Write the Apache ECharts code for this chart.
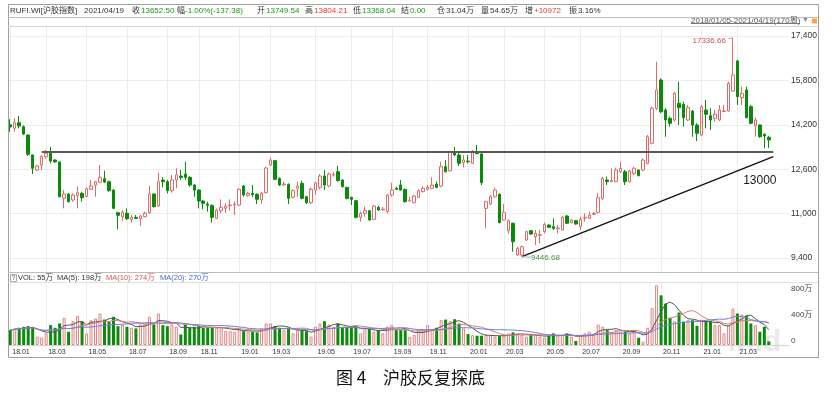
<!DOCTYPE html>
<html><head><meta charset="utf-8">
<script src="https://cdn.jsdelivr.net/npm/echarts@6/dist/echarts.min.js"></script>
<style>html,body{margin:0;padding:0;background:#fff}#c{width:835px;height:394px}</style>
</head><body><div id="c"></div>
<script>
// ---- weekly bars (170 weeks, 2018/01/05 - 2021/04/19) ----
const opens = [14200,14074,14276,14131,13832,13111,12571,12751,13050,13172,
12931,12860,11551,11706,11490,11646,11730,11622,11874,12030,
12127,12258,12150,11850,11032,10890,11010,10793,10865,10817,
10890,11032,11706,11274,12210,12150,11826,12210,12354,12426,
12306,12030,11850,11454,11346,11298,10829,11105,11190,11290,
11310,11310,11994,11658,11730,11694,11490,11754,12751,12907,
12270,12042,12054,11586,11910,12090,11610,11394,11850,11946,
12354,11994,12390,12510,12210,11946,11586,11466,10865,11010,
11106,10793,11226,11140,11070,11670,11910,12030,11874,11460,
11394,11586,11790,11874,11910,12066,11994,12690,12546,13230,
13111,12835,12890,12811,13190,13147,11190,11346,11610,11694,
10769,10385,10650,9508,9508,10049,10385,10169,10220,10349,
10589,10529,10460,10409,10913,10673,10745,10529,10840,10829,
10974,11046,11550,12210,12150,12150,12510,12510,12150,12451,
12570,12570,12811,13533,14794,15814,14733,14434,14373,14974,
14938,14373,14697,14193,13832,14733,14530,14434,14373,14680,
14697,15418,16499,15178,15454,14854,14157,14193,13858,13749.54];
const closes = [14120,14276,14157,13868,13137,12632,12715,13050,13172,12895,
12860,11609,11706,11429,11670,11754,11573,11898,11994,12149,
12307,12138,11826,11190,10939,11045,10816,10865,10829,10913,
11010,11706,11250,12150,12150,11826,12210,12402,12306,12306,
12030,11850,11454,11370,11298,10865,11130,11226,11274,11310,
11334,11874,11670,11730,11682,11514,11730,12643,12931,12234,
12030,12066,11550,11826,11994,11550,11394,11874,12114,12354,
12030,12426,12410,12186,11970,11550,11514,10865,11010,11106,
10769,11274,11130,11160,11670,11850,11874,11850,11430,11480,
11634,11826,11910,11946,12030,11946,12690,12510,13230,13111,
12811,12931,12870,13194,13160,12114,11430,11610,11850,10673,
11034,10745,9987,9749,9809,10349,10265,10289,10240,10613,
10505,10469,10480,10865,10650,10769,10625,10793,10860,10950,
11010,11573,12270,12150,12200,12570,12632,12150,12535,12632,
12367,12931,13771,14794,15454,14673,14373,14254,15334,14818,
14457,14818,14193,13893,14854,14578,14373,14578,14733,14700,
15694,15994,15213,15334,14457,14254,14373,13771,13797,13652.50];
const lows = [13950,13951,14074,13832,13076,12427,12535,12571,12980,12811,
12830,11586,11190,11400,11430,11190,11430,11600,11860,11609,
12100,12100,11790,11155,10434,10745,10769,10673,10800,10553,
10870,10986,11220,11240,11946,11730,11754,11910,12210,12210,
11970,11609,11190,11155,11070,10673,10800,11010,11034,11106,
10950,11280,11609,11609,11609,11346,11370,11730,12720,12210,
11994,11994,11346,11550,11609,11514,11346,11346,11670,11874,
11850,11946,12330,12160,11940,11514,11310,10829,10709,10890,
10745,10769,11100,11106,11010,11609,11850,11820,11400,11430,
11370,11560,11770,11826,11890,11910,11946,12480,12520,13076,
12715,12667,12811,12787,13140,12030,10470,11310,11580,10650,
10745,10289,9627,9472,9446.68,10013,10240,9868,9929,10289,
10480,10409,10289,10385,10625,10650,10600,10409,10709,10810,
10950,11010,11490,12030,12138,12130,12451,12030,12120,12390,
12340,12535,12775,13497,14733,14613,13771,14131,14313,14193,
14131,14337,13771,13616,13796,14074,14013,14313,14340,14661,
14673,15394,14913,14913,14434,14218,13771,13735,13353,13368.04];
const highs = [14400,14434,14517,14180,13850,13130,12751,13111,13292,13410,
12960,12880,11850,11730,11730,11969,11790,11940,12210,12180,
12751,12546,12190,11870,11070,11130,11190,10950,10950,10950,
11070,11994,11730,12474,12307,12210,12390,12632,12570,12871,
12354,12066,11880,11490,11430,11330,11190,11514,11370,11514,
11430,11910,12030,11790,12030,11730,11790,12690,13030,12931,
12306,12150,12090,11874,12150,12186,11630,11946,12150,12426,
12570,12474,12510,12715,12240,11970,11610,11490,11070,11250,
11130,11310,11274,11250,11706,12114,11970,12210,11900,11609,
11670,11874,11994,12030,12306,12150,12871,12931,13267,13411,
13230,13111,13111,13292,13470,13200,11466,11670,11946,11730,
11346,10793,10673,9809,9845,10385,10400,10409,10409,10673,
10613,10830,10589,10913,10950,10805,10769,10890,11010,11070,
11058,11730,12330,12330,12632,12655,12871,12570,12570,12690,
12600,12992,13832,14854,16474,15874,14794,14493,15394,15753,
15033,14914,14733,14254,14914,15094,14794,14733,14914,14914,
15754,17336.66,16535,15574,15574,14914,14457,14218,13893,13804.21];
// volume, unit 万手
const volumes = [228,254,264,279,289,274,127,112,178,304,
264,330,416,203,365,446,365,178,380,406,
482,390,355,431,289,314,279,264,254,314,
330,431,314,482,304,289,314,279,162,314,
264,279,289,264,264,264,264,279,218,213,
203,254,213,203,203,193,254,330,330,289,
264,228,264,178,228,228,213,127,279,330,
365,314,279,330,264,264,289,279,178,254,
243,203,228,178,279,304,228,228,228,127,
152,228,228,304,228,264,380,390,365,395,
330,254,167,152,142,142,152,152,127,137,
142,178,193,178,152,127,152,162,127,112,
142,178,152,152,178,127,61,152,178,203,
178,314,279,228,203,228,203,203,178,228,
112,51,264,568,913,761,634,416,365,497,
355,380,380,294,380,365,365,304,304,178,
304,558,482,467,446,330,304,203,279,55];
const tickIndex = [0,8,17,26,35,42,51,58,68,76,85,93,102,110,119,127,136,145,154,162];
const tickLabels = ['18.01','18.03','18.05','18.07','18.09','18.11','19.01','19.03','19.05','19.07',
'19.09','19.11','20.01','20.03','20.05','20.07','20.09','20.11','21.01','21.03'];
const priceTicks = [9400,11000,12600,14200,15800,17400];
const volTicks = [0,400,800];
const supportLevel = 13230;      // horizontal neckline
const supportFrom = 7;
const trendFrom = [114, 9446.68];
const trendTo = [170, 13050];
const trendLabel = ['13000', 167, 12180];
const highMark = [161, 17336.66];
const lowMark = [114, 9446.68];
const EMPTY_WEEKS = 4;

// ---- derived ----
const N = opens.length;
const categories = [];
for (let i = 0; i < N + EMPTY_WEEKS; i++) categories.push(String(i));
const candleData = opens.map((o, i) => [o, closes[i], lows[i], highs[i]]);
const upVol = volumes.map((v, i) => closes[i] >= opens[i] ? v : '-');
const downVol = volumes.map((v, i) => closes[i] < opens[i] ? v : '-');
function ma(k) {
  return volumes.map((v, i) => {
    let s = 0, c = 0;
    for (let j = Math.max(0, i - k + 1); j <= i; j++) { s += volumes[j]; c++; }
    return +(s / c).toFixed(1);
  });
}
const tickMap = {};
tickIndex.forEach((t, i) => tickMap[t] = tickLabels[i]);
const blanks = categories.map(() => '-');

const FONT = '"Liberation Sans","Noto Sans CJK SC",sans-serif';
function txt(x, y, text, fill, size, fam) {
  return {type: 'text', x: x, y: y, silent: true, z: 10,
    style: {text: text, fill: fill, font: size + 'px ' + (fam || FONT), align: 'left', verticalAlign: 'middle'}};
}
function ln(x1, y1, x2, y2, c, w) {
  return {type: 'line', silent: true, z: 10, shape: {x1, y1, x2, y2}, style: {stroke: c, lineWidth: w || 1}};
}
const G = '#169a16', R = '#e03a3a', K = '#333', HS = 8;
const graphics = [
  {type: 'text', x: 728, y: 343, silent: true, z: 0,
   style: {text: 'in.d', fill: '#e9e9e9', font: 'bold 30px ' + FONT, align: 'left', verticalAlign: 'middle'}},
  {type: 'rect', silent: true, z: 10, shape: {x: 8.5, y: 4.5, width: 810, height: 353}, style: {fill: 'none', stroke: '#a0a0a0', lineWidth: 1}},
  ln(8, 17.5, 818, 17.5, '#bdbdbd'),
  ln(8, 26.5, 818, 26.5, '#d6d6d6'),
  ln(8, 272.5, 818, 272.5, '#bdbdbd'),
  ln(8, 282.5, 818, 282.5, '#e2e2e2'),
  txt(10, 11, 'RUFI.WI[沪胶指数]', K, HS),
  txt(84, 11, '2021/04/19', K, HS),
  txt(132, 11, '收', K, HS), txt(141, 11, '13652.50', G, HS),
  txt(177, 11, '幅', K, HS), txt(185, 11, '-1.00%(-137.38)', G, HS),
  txt(257, 11, '开', K, HS), txt(266, 11, '13749.54', G, HS),
  txt(305, 11, '高', K, HS), txt(314, 11, '13804.21', R, HS),
  txt(353, 11, '低', K, HS), txt(362, 11, '13368.04', G, HS),
  txt(401, 11, '结', K, HS), txt(410, 11, '0.00', G, HS),
  txt(437, 11, '仓', K, HS), txt(446, 11, '31.04万', K, HS),
  txt(481, 11, '量', K, HS), txt(490, 11, '54.65万', K, HS),
  txt(525, 11, '增', K, HS), txt(534, 11, '+10972', R, HS),
  txt(569, 11, '振', K, HS), txt(578, 11, '3.16%', K, HS),
  txt(691, 20.5, '2018/01/05-2021/04/19(170周)', '#555', 8),
  ln(691, 23.5, 800, 23.5, '#777'),
  txt(802, 20.5, '▼', '#888', 7),
  {type: 'rect', silent: true, z: 10, shape: {x: 812, y: 18.5, width: 5, height: 5}, style: {fill: '#f2a93b'}},
  {type: 'rect', silent: true, z: 10, shape: {x: 10.5, y: 274.5, width: 6, height: 7}, style: {fill: '#fff', stroke: '#aaa'}},
  txt(11.5, 278, '?', '#555', 7),
  txt(18, 277.5, 'VOL: 55万', K, 7.5),
  txt(57, 277.5, 'MA(5): 198万', K, 7.5),
  txt(106, 277.5, 'MA(10): 274万', '#d9534f', 7.5),
  txt(160, 277.5, 'MA(20): 270万', '#4a67d6', 7.5),
  txt(336, 378, '图 4', '#111', 17, '"Noto Sans CJK SC",serif'),
  txt(383, 378, '沪胶反复探底', '#111', 17, '"Noto Sans CJK SC",serif')
];

const chart = echarts.init(document.getElementById('c'), null, {renderer: 'canvas'});
const gridLine = {color: '#ececec', width: 1, type: 'solid'};
chart.setOption({
  animation: false,
  backgroundColor: '#fff',
  textStyle: {fontFamily: FONT},
  grid: [
    {left: 8, right: 46, top: 27, height: 245},
    {left: 8, right: 46, top: 283, height: 62}
  ],
  xAxis: [
    {type: 'category', gridIndex: 0, data: categories, boundaryGap: true,
     axisLine: {show: false}, axisTick: {show: false}, axisLabel: {show: false}, splitLine: {show: false}},
    {type: 'category', gridIndex: 1, data: categories, boundaryGap: true,
     axisLine: {show: true, lineStyle: {color: '#d4d4d4'}}, axisTick: {show: false}, splitLine: {show: false},
     axisLabel: {show: true, interval: (i) => tickMap[i] !== undefined, formatter: (v, i) => tickMap[i] || '',
       align: 'left', padding: [0, 0, 0, 2], margin: 4, fontSize: 7, color: '#333', fontFamily: FONT}}
  ],
  yAxis: [
    {type: 'value', gridIndex: 0, position: 'right', min: 8896, max: 17724, scale: true,
     axisLine: {show: false}, axisTick: {show: false}, splitLine: {show: false},
     axisLabel: {show: true, customValues: priceTicks, margin: 2, fontSize: 8.5, color: '#333', fontFamily: FONT}},
    {type: 'value', gridIndex: 1, position: 'right', min: 0, max: 950,
     axisLine: {show: false}, axisTick: {show: false}, splitLine: {show: false},
     axisLabel: {show: true, customValues: volTicks, margin: 2, fontSize: 8, color: '#444',
       verticalAlign: 'bottom', fontFamily: FONT, formatter: v => v === 0 ? '0' : v + '万'}}
  ],
  graphic: graphics,
  series: [
    {type: 'line', xAxisIndex: 0, yAxisIndex: 0, data: blanks, silent: true, z: 1, showSymbol: false,
     markLine: {z: 1, silent: true, symbol: 'none', animation: false, label: {show: false}, lineStyle: gridLine,
       data: tickIndex.map(i => ({xAxis: i})).concat(priceTicks.map(v => ({yAxis: v})))}},
    {type: 'line', xAxisIndex: 1, yAxisIndex: 1, data: blanks, silent: true, z: 1, showSymbol: false,
     markLine: {z: 1, silent: true, symbol: 'none', animation: false, label: {show: false}, lineStyle: gridLine,
       data: tickIndex.map(i => ({xAxis: i}))}},
    {type: 'candlestick', name: '沪胶指数', xAxisIndex: 0, yAxisIndex: 0, data: candleData, barWidth: 3, z: 3,
     itemStyle: {color: '#ffffff', color0: '#0b8a0b', borderColor: '#df6a6a', borderColor0: '#0b8a0b', borderWidth: 1},
     markLine: {silent: true, symbol: 'none', animation: false, label: {show: false}, z: 5,
       data: [
         [{coord: [supportFrom, supportLevel], lineStyle: {color: '#595959', width: 2, type: 'solid'}},
          {coord: [N, supportLevel]}],
         [{coord: trendFrom, lineStyle: {color: '#111', width: 1.4, type: 'solid'}}, {coord: trendTo}],
         [{coord: highMark, lineStyle: {color: '#8fb8dc', width: 1, type: 'solid'}}, {coord: [highMark[0] - 1, highMark[1] - 30]}],
         [{coord: lowMark, lineStyle: {color: '#8fb8dc', width: 1, type: 'solid'}}, {coord: [lowMark[0] + 2, lowMark[1] - 20]}]
       ]},
     markPoint: {silent: true, animation: false, symbol: 'circle', symbolSize: 0,
       data: [
         {coord: highMark, label: {show: true, formatter: '17336.66', position: 'left', distance: 7, offset: [0, 3],
           color: '#c85454', fontSize: 8, fontFamily: FONT}},
         {coord: lowMark, label: {show: true, formatter: '9446.68', position: 'right', distance: 9, offset: [0, 1],
           color: '#3d9a3d', fontSize: 8, fontFamily: FONT}},
         {coord: [trendLabel[1], trendLabel[2]], label: {show: true, formatter: trendLabel[0], position: 'inside',
           color: '#1a1a1a', fontSize: 12, fontFamily: FONT}}
       ]}},
    {type: 'bar', xAxisIndex: 1, yAxisIndex: 1, data: upVol, barWidth: 3, barGap: '-100%', z: 3,
     itemStyle: {color: '#ffffff', borderColor: '#e08383', borderWidth: 1}},
    {type: 'bar', xAxisIndex: 1, yAxisIndex: 1, data: downVol, barWidth: 3, barGap: '-100%', z: 3,
     itemStyle: {color: '#0b8a0b'}},
    {type: 'line', xAxisIndex: 1, yAxisIndex: 1, data: ma(5), showSymbol: false, z: 4, silent: true,
     lineStyle: {color: '#555', width: 1}},
    {type: 'line', xAxisIndex: 1, yAxisIndex: 1, data: ma(10), showSymbol: false, z: 4, silent: true,
     lineStyle: {color: '#e07c7c', width: 1}},
    {type: 'line', xAxisIndex: 1, yAxisIndex: 1, data: ma(20), showSymbol: false, z: 4, silent: true,
     lineStyle: {color: '#6b7fe0', width: 1}}
  ]
});
</script></body></html>
